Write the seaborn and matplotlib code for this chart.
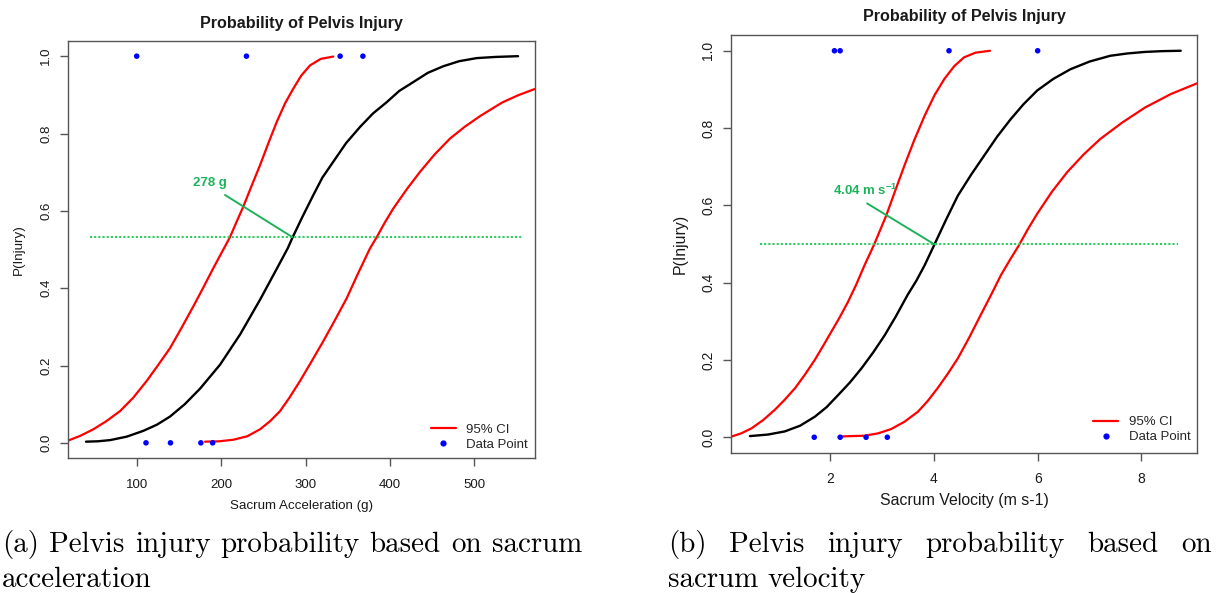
import numpy as np
import pandas as pd
import matplotlib
matplotlib.use("Agg")
import matplotlib.pyplot as plt
from matplotlib.lines import Line2D
import seaborn as sns

# ---------------- data ----------------
# Panel (a): sacrum acceleration (g)
acc_fit_x = [39.9, 54, 68.4, 88.2, 107.8, 124, 139.5, 157, 175.0, 198.7, 222.4, 246.1, 265.9,
             278.9, 284.4, 296, 309.3, 320, 332.9, 348, 364.6, 380, 396.2, 411, 427.7, 445,
             463.3, 482, 502.8, 525, 551.8]
acc_fit_p = [0.003, 0.004, 0.007, 0.016, 0.031, 0.047, 0.068, 0.100, 0.140, 0.202, 0.280,
             0.370, 0.450, 0.503, 0.530, 0.583, 0.641, 0.686, 0.727, 0.775, 0.817, 0.852,
             0.881, 0.910, 0.933, 0.957, 0.974, 0.987, 0.995, 0.998, 1.0]
acc_hi_x = [19.0, 33, 48.6, 64, 80.2, 96, 111.8, 125, 139.5, 153, 167.1, 179, 190.8, 203.4,
            210.5, 218, 226.3, 236, 246.1, 256, 265.9, 276, 285.5, 295, 305.3, 318, 332.9]
acc_hi_p = [0.006, 0.018, 0.035, 0.056, 0.082, 0.117, 0.160, 0.200, 0.245, 0.297, 0.353,
            0.402, 0.452, 0.503, 0.532, 0.570, 0.611, 0.664, 0.718, 0.775, 0.830, 0.879,
            0.916, 0.950, 0.976, 0.993, 0.999]
acc_lo_x = [180.9, 198, 214.5, 231, 246.1, 258, 269.8, 281, 293.5, 307, 321.1, 335, 348.8,
            362, 376.4, 384.4, 394, 404.0, 420, 435.7, 453, 471.2, 489, 506.8, 532.8, 552,
            571.5]
acc_lo_p = [0.003, 0.004, 0.008, 0.017, 0.035, 0.056, 0.082, 0.117, 0.160, 0.210, 0.263,
            0.318, 0.374, 0.437, 0.503, 0.532, 0.570, 0.606, 0.656, 0.701, 0.746, 0.787,
            0.818, 0.845, 0.880, 0.899, 0.915]
acc_pts_x = [100, 230, 341, 368, 111, 140, 176, 190]
acc_pts_y = [1, 1, 1, 1, 0, 0, 0, 0]
acc_level = 0.532
acc_level_x = [44.7, 556.7]
acc_label = "278 g"
acc_label_xy = [186.1, 0.673]
acc_pointer_x = [204.6, 284.4]
acc_pointer_y = [0.641, 0.532]

# Panel (b): sacrum velocity (m s-1)
vel_fit_x = [0.45, 0.80, 1.12, 1.42, 1.70, 1.93, 2.15, 2.38, 2.60, 2.83, 3.05, 3.27, 3.49,
             3.66, 3.82, 4.01, 4.23, 4.46, 4.72, 4.97, 5.22, 5.48, 5.73, 5.99, 6.30, 6.63,
             7.00, 7.40, 7.73, 8.07, 8.40, 8.76]
vel_fit_p = [0.003, 0.007, 0.015, 0.030, 0.053, 0.078, 0.109, 0.142, 0.178, 0.220, 0.264,
             0.314, 0.368, 0.405, 0.445, 0.499, 0.562, 0.625, 0.680, 0.729, 0.778, 0.823,
             0.862, 0.897, 0.927, 0.952, 0.972, 0.987, 0.993, 0.997, 0.999, 1.0]
vel_hi_x = [0.10, 0.28, 0.48, 0.70, 0.93, 1.12, 1.32, 1.51, 1.70, 1.86, 2.02, 2.18, 2.34,
            2.50, 2.66, 2.84, 3.08, 3.25, 3.43, 3.62, 3.82, 4.01, 4.20, 4.39, 4.58, 4.80,
            5.08]
vel_hi_p = [0.002, 0.010, 0.023, 0.044, 0.071, 0.097, 0.127, 0.162, 0.200, 0.236, 0.273,
            0.310, 0.350, 0.395, 0.445, 0.497, 0.574, 0.637, 0.703, 0.769, 0.832, 0.885,
            0.927, 0.960, 0.983, 0.995, 1.0]
vel_lo_x = [2.20, 2.66, 2.92, 3.17, 3.43, 3.69, 3.88, 4.07, 4.26, 4.46, 4.68, 4.90, 5.10,
            5.29, 5.47, 5.64, 5.81, 5.99, 6.28, 6.57, 6.89, 7.21, 7.64, 8.07, 8.57, 9.08]
vel_lo_p = [0.002, 0.004, 0.010, 0.021, 0.040, 0.066, 0.094, 0.127, 0.163, 0.204, 0.258,
            0.316, 0.368, 0.419, 0.460, 0.497, 0.538, 0.578, 0.636, 0.686, 0.732, 0.772,
            0.815, 0.853, 0.888, 0.916]
vel_pts_x = [2.08, 2.19, 4.29, 6.00, 1.69, 2.19, 2.69, 3.10]
vel_pts_y = [1, 1, 1, 1, 0, 0, 0, 0]
vel_level = 0.499
vel_level_x = [0.64, 8.70]
vel_label = r"4.04 m s$^{\mathbf{-1}}$"
vel_label_xy = [2.67, 0.638]
vel_pointer_x = [2.71, 4.01]
vel_pointer_y = [0.605, 0.499]

title = "Probability of Pelvis Injury"
ylab = "P(Injury)"
acc_xlab = "Sacrum Acceleration (g)"
vel_xlab = "Sacrum Velocity (m s-1)"
acc_ticks = [100, 200, 300, 400, 500]
vel_ticks = [2, 4, 6, 8]
p_ticks = [0.0, 0.2, 0.4, 0.6, 0.8, 1.0]
legend_labels = ["95% CI", "Data Point"]
cap_a = [["(a)", "Pelvis", "injury", "probability", "based", "on", "sacrum"], ["acceleration"]]
cap_b = [["(b)", "Pelvis", "injury", "probability", "based", "on"], ["sacrum", "velocity"]]

# ---------------- style ----------------
sns.set_theme(style="ticks")
plt.rcParams["font.family"] = ["Liberation Sans", "DejaVu Sans"]
plt.rcParams["mathtext.fontset"] = "custom"
plt.rcParams["mathtext.rm"] = "Liberation Sans:bold"
plt.rcParams["mathtext.bf"] = "Liberation Sans:bold"
plt.rcParams["lines.solid_capstyle"] = "round"

W, H = 1220, 593
fig = plt.figure(figsize=(W / 100, H / 100), dpi=100)
fig.patch.set_facecolor("white")

RED = "#FF0000"
BLUE = "#0000FF"
GREEN = "#1DB35A"
GREEN_DOT = "#2ECC60"
SPINE = "#555555"


def panel(rect, fit_x, fit_p, hi_x, hi_p, lo_x, lo_p, px, py, level, level_x,
          label, label_xy, ptr_x, ptr_y, xlim, xticks, xlab, title_y,
          tick_fs, lab_fs, xtick_pad, xlab_y, ylab_x, leg_anchor):
    ax = fig.add_axes(rect)
    ax.set_facecolor("white")
    sns.lineplot(x=fit_x, y=fit_p, ax=ax, color="black", lw=1.7, sort=False, estimator=None)
    sns.lineplot(x=hi_x, y=hi_p, ax=ax, color=RED, lw=1.6, sort=False, estimator=None)
    sns.lineplot(x=lo_x, y=lo_p, ax=ax, color=RED, lw=1.6, sort=False, estimator=None)
    sns.lineplot(x=level_x, y=[level, level], ax=ax, color=GREEN_DOT, lw=1.5,
                 linestyle=(0, (1, 1)), sort=False, estimator=None)
    sns.lineplot(x=ptr_x, y=ptr_y, ax=ax, color=GREEN, lw=1.4, sort=False, estimator=None)
    sns.scatterplot(x=px, y=py, ax=ax, color=BLUE, s=16, edgecolor="none", linewidth=0, zorder=5)
    ax.text(label_xy[0], label_xy[1], label, color=GREEN, fontsize=9.5, fontweight="bold",
            ha="center", va="center")

    ax.set_xlim(*xlim)
    ax.set_ylim(-0.04, 1.04)
    ax.set_xticks(xticks)
    ax.set_xticklabels([str(t) for t in xticks])
    ax.set_yticks(p_ticks)
    ax.set_yticklabels([f"{t:.1f}" for t in p_ticks], rotation=90, va="center")
    for s in ax.spines.values():
        s.set_visible(True)
        s.set_color(SPINE)
        s.set_linewidth(1.0)
    ax.tick_params(axis="both", direction="out", length=5.5, width=1.0, color=SPINE,
                   labelsize=tick_fs, labelcolor="#1a1a1a")
    ax.tick_params(axis="x", pad=xtick_pad)
    ax.tick_params(axis="y", pad=6)

    ax.set_xlabel(xlab, fontsize=lab_fs, color="#1a1a1a")
    ax.xaxis.label.set_va("center")
    ax.xaxis.set_label_coords(0.5, xlab_y)
    ax.set_ylabel(ylab, fontsize=lab_fs, color="#1a1a1a")
    ax.yaxis.label.set_va("center")
    ax.yaxis.set_label_coords(ylab_x, 0.5)
    ax.text(0.5, title_y, title, transform=ax.transAxes, ha="center", va="center",
            fontsize=11.6, fontweight="bold", color="#1a1a1a")

    handles = [Line2D([0], [0], color=RED, lw=1.6),
               Line2D([0], [0], color=BLUE, lw=0, marker="o", markersize=4.5,
                      markeredgewidth=0)]
    ax.legend(handles, legend_labels, loc="lower right", bbox_to_anchor=leg_anchor,
              frameon=False, fontsize=9.5, handlelength=1.9, handletextpad=0.8,
              labelspacing=0.2, borderpad=0, borderaxespad=0)
    return ax


axA = panel([68.3 / W, 1 - 458.3 / H, 466.3 / W, 417.6 / H],
            acc_fit_x, acc_fit_p, acc_hi_x, acc_hi_p, acc_lo_x, acc_lo_p,
            acc_pts_x, acc_pts_y, acc_level, acc_level_x, acc_label, acc_label_xy,
            acc_pointer_x, acc_pointer_y, (18.96, 571.4), acc_ticks, acc_xlab,
            (458.3 - 23.3) / 417.6, 9.5, 9.6, 9.5, (458.3 - 506) / 417.6,
            (19 - 68.3) / 466.3, ((528 - 68.3) / 466.3, (458.3 - 450.8) / 417.6))

axB = panel([731.3 / W, 1 - 452.7 / H, 466.1 / W, 417.4 / H],
            vel_fit_x, vel_fit_p, vel_hi_x, vel_hi_p, vel_lo_x, vel_lo_p,
            vel_pts_x, vel_pts_y, vel_level, vel_level_x, vel_label, vel_label_xy,
            vel_pointer_x, vel_pointer_y, (0.09, 9.082), vel_ticks, vel_xlab,
            (452.7 - 16) / 417.4, 10, 11.4, 8.5, (452.7 - 500) / 417.4,
            (680.5 - 731.3) / 466.1, ((1190.7 - 731.3) / 466.1, (452.7 - 443.2) / 417.4))

# ---------------- captions (LaTeX-like serif, justified first line) ----------------
CAP_FS = 20.9
CAP_FAMILY = ["cmr10", "DejaVu Serif"]


def caption_line(words, x0, x1, baseline, justify):
    texts = [fig.text(0, 1 - baseline / H, w, fontsize=CAP_FS, family=CAP_FAMILY,
                      va="baseline", ha="left", color="black") for w in words]
    fig.canvas.draw()
    r = fig.canvas.get_renderer()
    widths = [t.get_window_extent(r).width for t in texts]
    if justify and len(words) > 1:
        gap = ((x1 - x0) - sum(widths)) / (len(words) - 1)
    else:
        gap = CAP_FS * 100 / 72 * 0.333
    x = x0
    for t, w in zip(texts, widths):
        t.set_x(x / W)
        x += w + gap


caption_line(cap_a[0], 2, 582, 552, True)
caption_line(cap_a[1], 2, 582, 587, False)
caption_line(cap_b[0], 668, 1212, 552, True)
caption_line(cap_b[1], 668, 1212, 587, False)

fig.savefig("out.png", dpi=100, facecolor="white")
